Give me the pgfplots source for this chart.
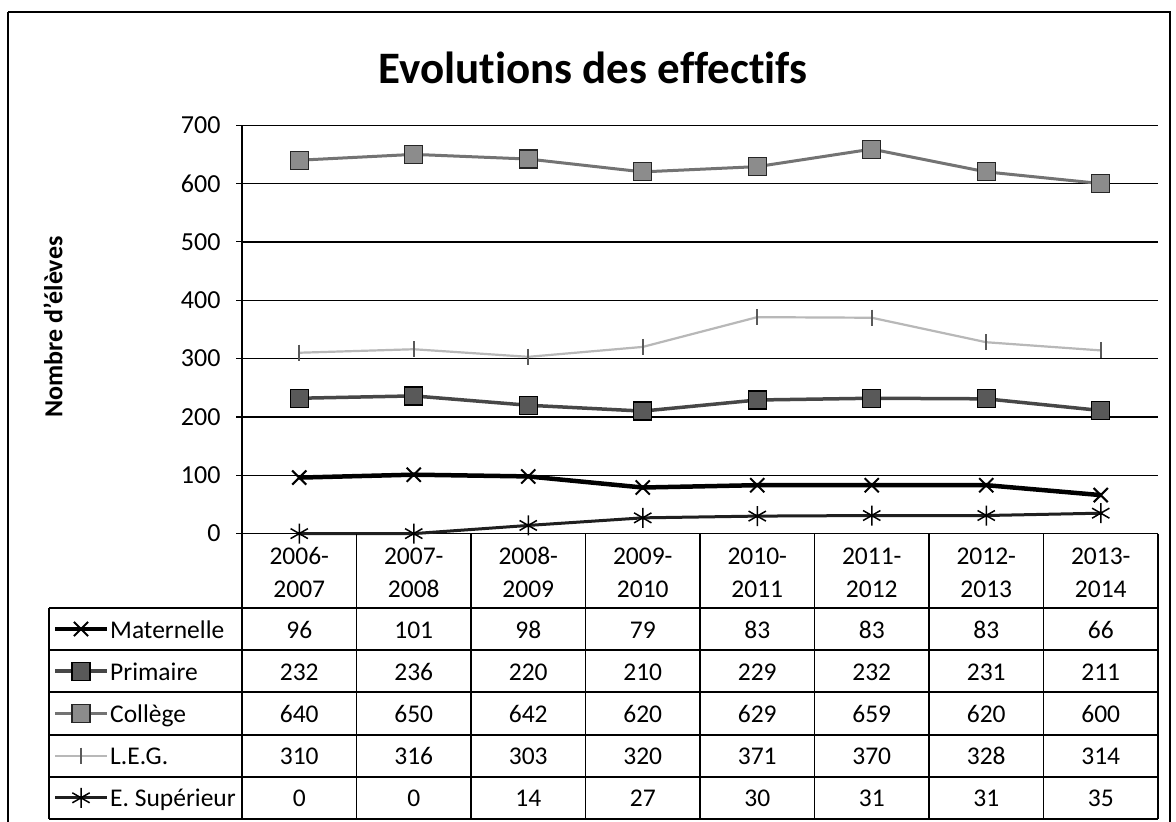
\documentclass[border=0pt]{standalone}
\usepackage{pgfplots}
\pgfplotsset{compat=1.18}
\usepackage{fontspec}
\setmainfont{Carlito}[Ligatures={NoCommon}]
\begin{document}
\begin{tikzpicture}
\tikzset{
  mat/.style={black, line width=4.5pt, mark=x, mark size=10pt, mark options={solid, black, line width=2pt}},
  prim/.style={black!72, line width=3.5pt, mark=square*, mark size=9pt, mark options={solid, fill=black!65, draw=black, line width=1.2pt}},
  col/.style={black!55, line width=3pt, mark=square*, mark size=9pt, mark options={solid, fill=black!45, draw=black!85, line width=1.2pt}},
  leg/.style={black!28, line width=2.2pt, mark=|, mark size=8pt, mark options={solid, black!65, line width=1.8pt}},
  sup/.style={black!88, line width=3pt, mark=asterisk, mark size=10pt, mark options={solid, black, line width=1.5pt}},
  tf/.style={font=\fontsize{25.5}{30}\selectfont},
}
\begin{scope}[x=1pt,y=-1pt]
\useasboundingbox (0,0) rectangle (1176,822);
\fill[white] (0,0) rectangle (1176,822);
\draw[line width=2pt] (8,12) -- (1170,12) -- (1170,840);
\draw[line width=2pt] (8,12) -- (8,840);
\node[font=\fontsize{45}{52}\selectfont\bfseries] at (593,68) {Evolutions des effectifs};
\node[font=\fontsize{26}{30}\selectfont\bfseries, rotate=90] at (53,327) {Nombre d'élèves};
\end{scope}
\begin{axis}[
  at={(242pt,-533.6pt)}, anchor=south west,
  scale only axis, width=916pt, height=408.4pt,
  xmin=-0.5, xmax=7.5, ymin=0, ymax=700,
  ytick={0,100,...,700}, xtick=\empty,
  ymajorgrids, grid style={black, line width=1.3pt},
  axis y line*=left, axis x line*=bottom,
  axis line style={black, line width=1.3pt},
  ytick align=outside, major tick length=6pt,
  tick style={black, line width=1.2pt},
  yticklabel style={font=\fontsize{26}{30}\selectfont, xshift=-12pt},
  /pgf/number format/assume math mode=true,
  clip=false,
]
\addplot[sup] coordinates {(0,0) (1,0) (2,14) (3,27) (4,30) (5,31) (6,31) (7,35)};
\addplot[mat] coordinates {(0,96) (1,101) (2,98) (3,79) (4,83) (5,83) (6,83) (7,66)};
\addplot[prim] coordinates {(0,232) (1,236) (2,220) (3,210) (4,229) (5,232) (6,231) (7,211)};
\addplot[leg] coordinates {(0,310) (1,316) (2,303) (3,320) (4,371) (5,370) (6,328) (7,314)};
\addplot[col] coordinates {(0,640) (1,650) (2,642) (3,620) (4,629) (5,659) (6,620) (7,600)};
\end{axis}
\begin{scope}[x=1pt,y=-1pt]
% table grid
\foreach \yy in {608,650,692,735,777,819} \draw[line width=1.5pt] (49,\yy) -- (1158,\yy);
\draw[line width=1.5pt] (49,608) -- (49,819);
\foreach \k in {0,...,8} \draw[line width=1.5pt] ({242+114.5*\k},533.6) -- ({242+114.5*\k},819);
% header
\foreach \a [count=\i from 0] in {2006,2007,2008,2009,2010,2011,2012,2013} {
  \pgfmathtruncatemacro{\b}{\a+1}
  \node[tf, anchor=base, inner sep=0pt] at ({242+114.5*(\i+0.5)},564) {\a-};
  \node[tf, anchor=base, inner sep=0pt] at ({242+114.5*(\i+0.5)},597) {\b};
}
% rows
\foreach \vals [count=\r from 0] in {
  {96,101,98,79,83,83,83,66},
  {232,236,220,210,229,232,231,211},
  {640,650,642,620,629,659,620,600},
  {310,316,303,320,371,370,328,314},
  {0,0,14,27,30,31,31,35}} {
  \foreach \v [count=\i from 0] in \vals {
    \node[tf, anchor=base, inner sep=0pt] at ({242+114.5*(\i+0.5)},{638+42.2*\r}) {\v};
  }
}
% legend keys
\foreach \sty/\lab [count=\r from 0] in {mat/Maternelle, prim/Primaire, col/Collège, leg/L.E.G., sup/E. Supérieur} {
  \draw[\sty, mark indices={2}] plot coordinates {(55,{629+42.2*\r}) (81,{629+42.2*\r}) (107,{629+42.2*\r})};
  \node[tf, anchor=base west, inner sep=0pt] at (110,{638+42.2*\r}) {\lab};
}
\end{scope}
\end{tikzpicture}
\end{document}
